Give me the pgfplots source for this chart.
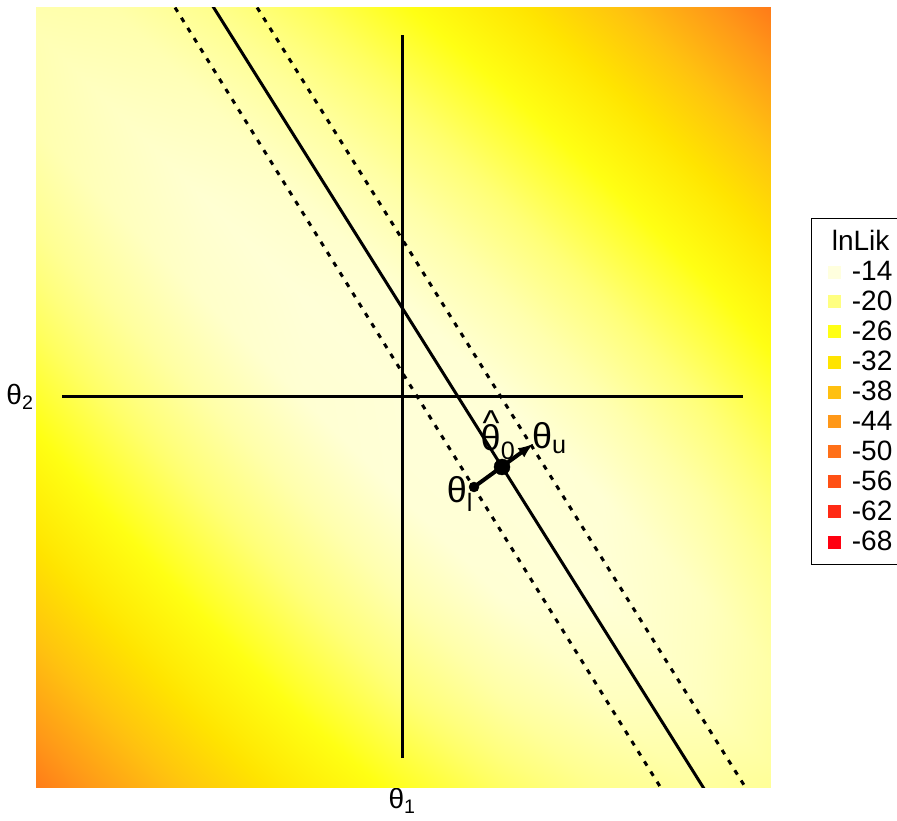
\documentclass[border=0pt]{standalone}
\usepackage{pgfplots}
\pgfplotsset{compat=1.18}
\usepackage{fontspec}
\setmainfont{Liberation Sans}
\definecolor{c14}{RGB}{255,255,222}
\definecolor{c20}{RGB}{255,255,128}
\definecolor{c26}{RGB}{255,255,20}
\definecolor{c32}{RGB}{255,228,0}
\definecolor{c38}{RGB}{255,192,16}
\definecolor{c44}{RGB}{255,152,24}
\definecolor{c50}{RGB}{255,112,24}
\definecolor{c56}{RGB}{255,80,20}
\definecolor{c62}{RGB}{255,42,20}
\definecolor{c68}{RGB}{255,0,16}
\newcommand{\legfont}{\fontsize{28}{33}\selectfont}
\newcommand{\tickfont}{\fontsize{28}{32}\selectfont}
\newcommand{\labfont}{\fontsize{36}{40}\selectfont}
\begin{document}
\begin{tikzpicture}
\begin{axis}[name=ax, scale only axis, width=733pt, height=779pt,
  xmin=-3.65, xmax=3.68, ymin=-3.90, ymax=3.89,
  axis line style={draw=none}, tick style={draw=none},
  xtick={0}, xticklabels={θ\textsubscript{1}},
  ytick={0}, yticklabels={θ\textsubscript{2}},
  xticklabel style={font=\tickfont, yshift=2pt},
  yticklabel style={font=\tickfont},
  colormap={heat}{rgb255=(255,0,16) rgb255=(255,42,20) rgb255=(255,80,20) rgb255=(255,112,24) rgb255=(255,152,24) rgb255=(255,192,16) rgb255=(255,228,0) rgb255=(255,255,20) rgb255=(255,255,125) rgb255=(255,255,215)},
  point meta min=-68, point meta max=-14,
  legend style={at={(1.056,0.730)}, anchor=north west, draw=black, line width=0.6pt,
    font=\legfont, row sep=5pt, inner xsep=14pt, inner ysep=10pt, fill=white},
  legend cell align=left,
]
\addplot[surf, shader=interp, point meta=explicit, mesh/rows=9, mesh/cols=9, mesh/ordering=y varies, forget plot]
 table[x=u, y=v, meta=f] {
u v f
-4 -4 -51.59
-4 -3 -43.93
-4 -2 -37.16
-4 -1 -31.27
-4 0 -26.26
-4 1 -22.18
-4 2 -19.09
-4 3 -17.14
-4 4 -16.87
-3 -4 -43.64
-3 -3 -36.71
-3 -2 -30.65
-3 -1 -25.49
-3 0 -21.25
-3 1 -17.99
-3 2 -15.89
-3 3 -15.46
-3 4 -17.14
-2 -4 -36.57
-2 -3 -30.36
-2 -2 -25.04
-2 -1 -20.63
-2 0 -17.22
-2 1 -14.96
-2 2 -14.36
-2 3 -15.89
-2 4 -19.09
-1 -4 -30.53
-1 -3 -24.90
-1 -2 -20.34
-1 -1 -16.77
-1 0 -14.34
-1 1 -13.59
-1 2 -14.96
-1 3 -17.99
-1 4 -22.18
0 -4 -25.60
0 -3 -20.51
0 -2 -16.63
0 -1 -14.05
0 0 -13.14
0 1 -14.34
0 2 -17.22
0 3 -21.25
0 4 -26.26
1 -4 -21.81
1 -3 -17.33
1 -2 -14.22
1 -1 -13.00
1 0 -14.05
1 1 -16.77
1 2 -20.63
1 3 -25.49
1 4 -31.27
2 -4 -19.23
2 -3 -15.52
2 -2 -13.70
2 -1 -14.22
2 0 -16.63
2 1 -20.34
2 2 -25.04
2 3 -30.65
2 4 -37.16
3 -4 -18.02
3 -3 -15.60
3 -2 -15.52
3 -1 -17.33
3 0 -20.51
3 1 -24.90
3 2 -30.36
3 3 -36.71
3 4 -43.93
4 -4 -18.69
4 -3 -18.02
4 -2 -19.23
4 -1 -21.81
4 0 -25.60
4 1 -30.53
4 2 -36.57
4 3 -43.64
4 4 -51.59
};
% reference lines
\addplot[black, line width=3pt, forget plot] coordinates {(0,-3.61) (0,3.62)};
\addplot[black, line width=3pt, forget plot] coordinates {(-3.40,0) (3.41,0)};
\addplot[black, line width=3pt, forget plot] coordinates {(-2.075,4.2) (3.198,-4.2)};
\addplot[black, line width=3pt, dash pattern=on 5pt off 7pt, forget plot] coordinates {(-2.46,4.2) (2.77,-4.2)};
\addplot[black, line width=3pt, dash pattern=on 5pt off 7pt, forget plot] coordinates {(-1.64,4.2) (3.62,-4.2)};
% interval segment and points
\addplot[black, line width=4pt, -latex, forget plot] coordinates {(0.72,-0.90) (1.31,-0.47)};
\addplot[black, only marks, mark=*, mark size=8pt, forget plot] coordinates {(1.00,-0.70)};
\addplot[black, only marks, mark=*, mark size=5pt, forget plot] coordinates {(0.72,-0.90)};
\node[font=\labfont] at (axis cs:0.96,-0.385) {\rlap{\hspace{0.05em}\raisebox{0.42em}{\^{}}}θ\textsubscript{0}};
\node[font=\labfont, anchor=west, inner sep=0pt] at (axis cs:1.30,-0.41) {θ\textsubscript{u}};
\node[font=\labfont] at (axis cs:0.58,-0.97) {θ\textsubscript{l}};
% legend
\addlegendimage{empty legend}\addlegendentry{\hspace*{-10pt}lnLik\rule[-25pt]{0pt}{25pt}}
\addlegendimage{only marks, mark=square*, mark size=6pt, color=c14}\addlegendentry{\hspace*{10pt}-14}
\addlegendimage{only marks, mark=square*, mark size=6pt, color=c20}\addlegendentry{\hspace*{10pt}-20}
\addlegendimage{only marks, mark=square*, mark size=6pt, color=c26}\addlegendentry{\hspace*{10pt}-26}
\addlegendimage{only marks, mark=square*, mark size=6pt, color=c32}\addlegendentry{\hspace*{10pt}-32}
\addlegendimage{only marks, mark=square*, mark size=6pt, color=c38}\addlegendentry{\hspace*{10pt}-38}
\addlegendimage{only marks, mark=square*, mark size=6pt, color=c44}\addlegendentry{\hspace*{10pt}-44}
\addlegendimage{only marks, mark=square*, mark size=6pt, color=c50}\addlegendentry{\hspace*{10pt}-50}
\addlegendimage{only marks, mark=square*, mark size=6pt, color=c56}\addlegendentry{\hspace*{10pt}-56}
\addlegendimage{only marks, mark=square*, mark size=6pt, color=c62}\addlegendentry{\hspace*{10pt}-62}
\addlegendimage{only marks, mark=square*, mark size=6pt, color=c68}\addlegendentry{\hspace*{10pt}-68}
\end{axis}
\pgfresetboundingbox
\path (ax.south west) ++(-37pt,-33pt) rectangle ++(897pt,820pt);
\end{tikzpicture}
\end{document}
